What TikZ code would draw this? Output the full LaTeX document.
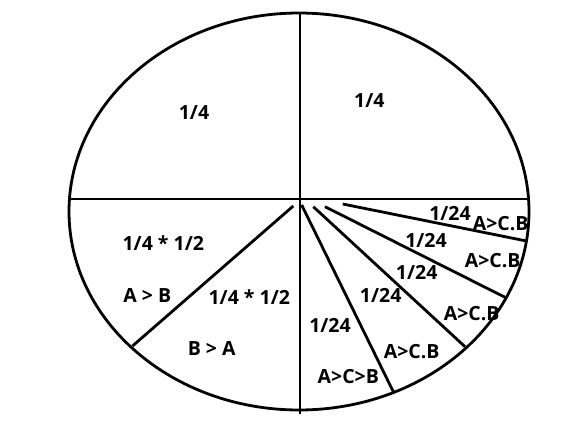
\documentclass[tikz,border=0pt]{standalone}
\usepackage{fontspec}
\setmainfont{Open Sans}
\usepackage{tikz}

\begin{document}
\begin{tikzpicture}[x=1pt, y=-1pt, line width=2.8pt,
	every node/.style={font=\bfseries\fontsize{19.5}{21}\selectfont, inner sep=0pt}]
	\useasboundingbox (0,0) rectangle (576,426);
	\coordinate (c) at (299,211.5);
	\draw (c) ellipse [x radius=230, y radius=198.5];
	% quarters
	\draw (300,13) -- (300,414);
	\draw (69.5,199) -- (528.5,199);
	% lower left half split
	\draw (293.3,206) -- (132.5,346);
	% lower right fan
	\foreach \sx/\sy/\ex/\ey in {301.7/205/393.3/391.7, 313.3/206.7/465/346.7,
		325/206.7/505/297.3, 342.7/204/525/240.7}
		\draw (\sx,\sy) -- (\ex,\ey);
	% labels
	\node (q1) at (194,112.7) {1/4};
	\node (q2) at (369.3,100.7) {1/4};
	\node (h1) at (163.3,243.3) {1/4 * 1/2};
	\node (h1r) at (147.3,296) {A > B};
	\node (h2) at (249.3,296.7) {1/4 * 1/2};
	\node (h2r) at (211.7,348.3) {B > A};
	\foreach \n/\fx/\fy/\rx/\ry/\r in {1/330/325/348.3/376.7/A>C>B, 2/380.7/295/411.7/351.7/A>C.B,
		3/416.7/272.7/471.7/313.3/A>C.B, 4/426/240.7/492.7/260.7/A>C.B, 5/450/213/500.7/224/A>C.B} {
		\node (f\n) at (\fx,\fy) {1/24};
		\node (r\n) at (\rx,\ry) {\r};
	}
\end{tikzpicture}
\end{document}
